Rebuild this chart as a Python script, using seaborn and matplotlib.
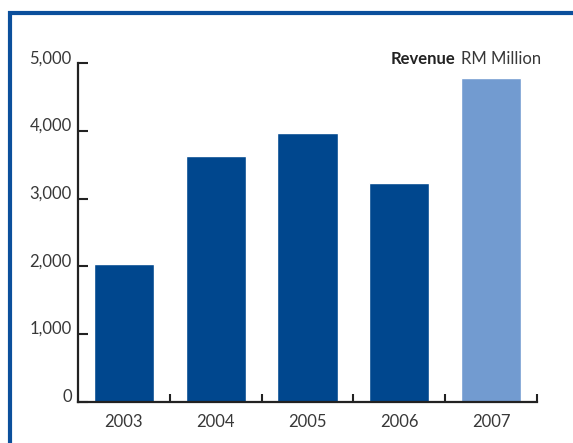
import matplotlib
matplotlib.use("Agg")
import matplotlib.pyplot as plt
import seaborn as sns
from matplotlib.lines import Line2D
from matplotlib.ticker import FuncFormatter, FixedLocator

years = ["2003", "2004", "2005", "2006", "2007"]
revenue = [2030, 3630, 3970, 3230, 4780]
bar_colors = ["#00478E", "#00478E", "#00478E", "#00478E", "#729BD0"]
y_ticks = [0, 1000, 2000, 3000, 4000, 5000]

sns.set_style("white")
plt.rcParams["font.family"] = ["Lato", "DejaVu Sans"]
text_color = "#383838"
axis_color = "#222222"

W, H = 573, 443
fig = plt.figure(figsize=(W / 100, H / 100), dpi=100)
ax = fig.add_axes([78 / W, 41.5 / H, (537 - 78) / W, (401.5 - 63.5) / H])

sns.barplot(x=years, y=revenue, hue=years, palette=bar_colors, legend=False,
            width=0.654, saturation=1, ax=ax)

ax.set_xlim(-0.5, 4.5)
ax.set_ylim(0, 5000)
ax.set_xlabel("")
ax.set_ylabel("")

for s in ["top", "right"]:
    ax.spines[s].set_visible(False)
for s in ["left", "bottom"]:
    ax.spines[s].set_color(axis_color)
    ax.spines[s].set_linewidth(1.6)

ax.yaxis.set_major_locator(FixedLocator(y_ticks))
ax.yaxis.set_major_formatter(FuncFormatter(lambda v, p: f"{int(v):,}"))
ax.tick_params(axis="y", direction="in", length=7.5, width=1.5, color=axis_color,
               labelsize=12, labelcolor=text_color, pad=4.5, left=True)
for lab in ax.get_yticklabels():
    lab.set_verticalalignment("baseline")

ax.set_xticks(range(len(years)))
ax.set_xticklabels(years)
ax.set_xticks([0.5, 1.5, 2.5, 3.5, 4.5], minor=True)
ax.tick_params(axis="x", which="major", length=0, labelsize=12,
               labelcolor=text_color, pad=9)
ax.tick_params(axis="x", which="minor", direction="in", length=6, width=1.5,
               color=axis_color, bottom=True)

# Frame lines (left and top) of the panel
fig.add_artist(Line2D([10 / W, 10 / W], [0, 1 - 11 / H], transform=fig.transFigure,
                      color="#0B4F9C", linewidth=3.0, solid_capstyle="butt"))
fig.add_artist(Line2D([8 / W, 1], [1 - 13 / H, 1 - 13 / H], transform=fig.transFigure,
                      color="#0B4F9C", linewidth=3.0, solid_capstyle="butt"))

# Title text, right-aligned to the reference extent
fs = 12
t2 = fig.text(541 / W, 1 - 63.5 / H, "RM Million", fontsize=fs,
              color=text_color, ha="right", va="baseline")
fig.canvas.draw()
bb = t2.get_window_extent(fig.canvas.get_renderer())
fig.text((bb.x0 - 5) / W, 1 - 63.5 / H, "Revenue", fontsize=fs, fontweight="bold",
         color="#222222", ha="right", va="baseline")

fig.savefig("out.png", dpi=100)
